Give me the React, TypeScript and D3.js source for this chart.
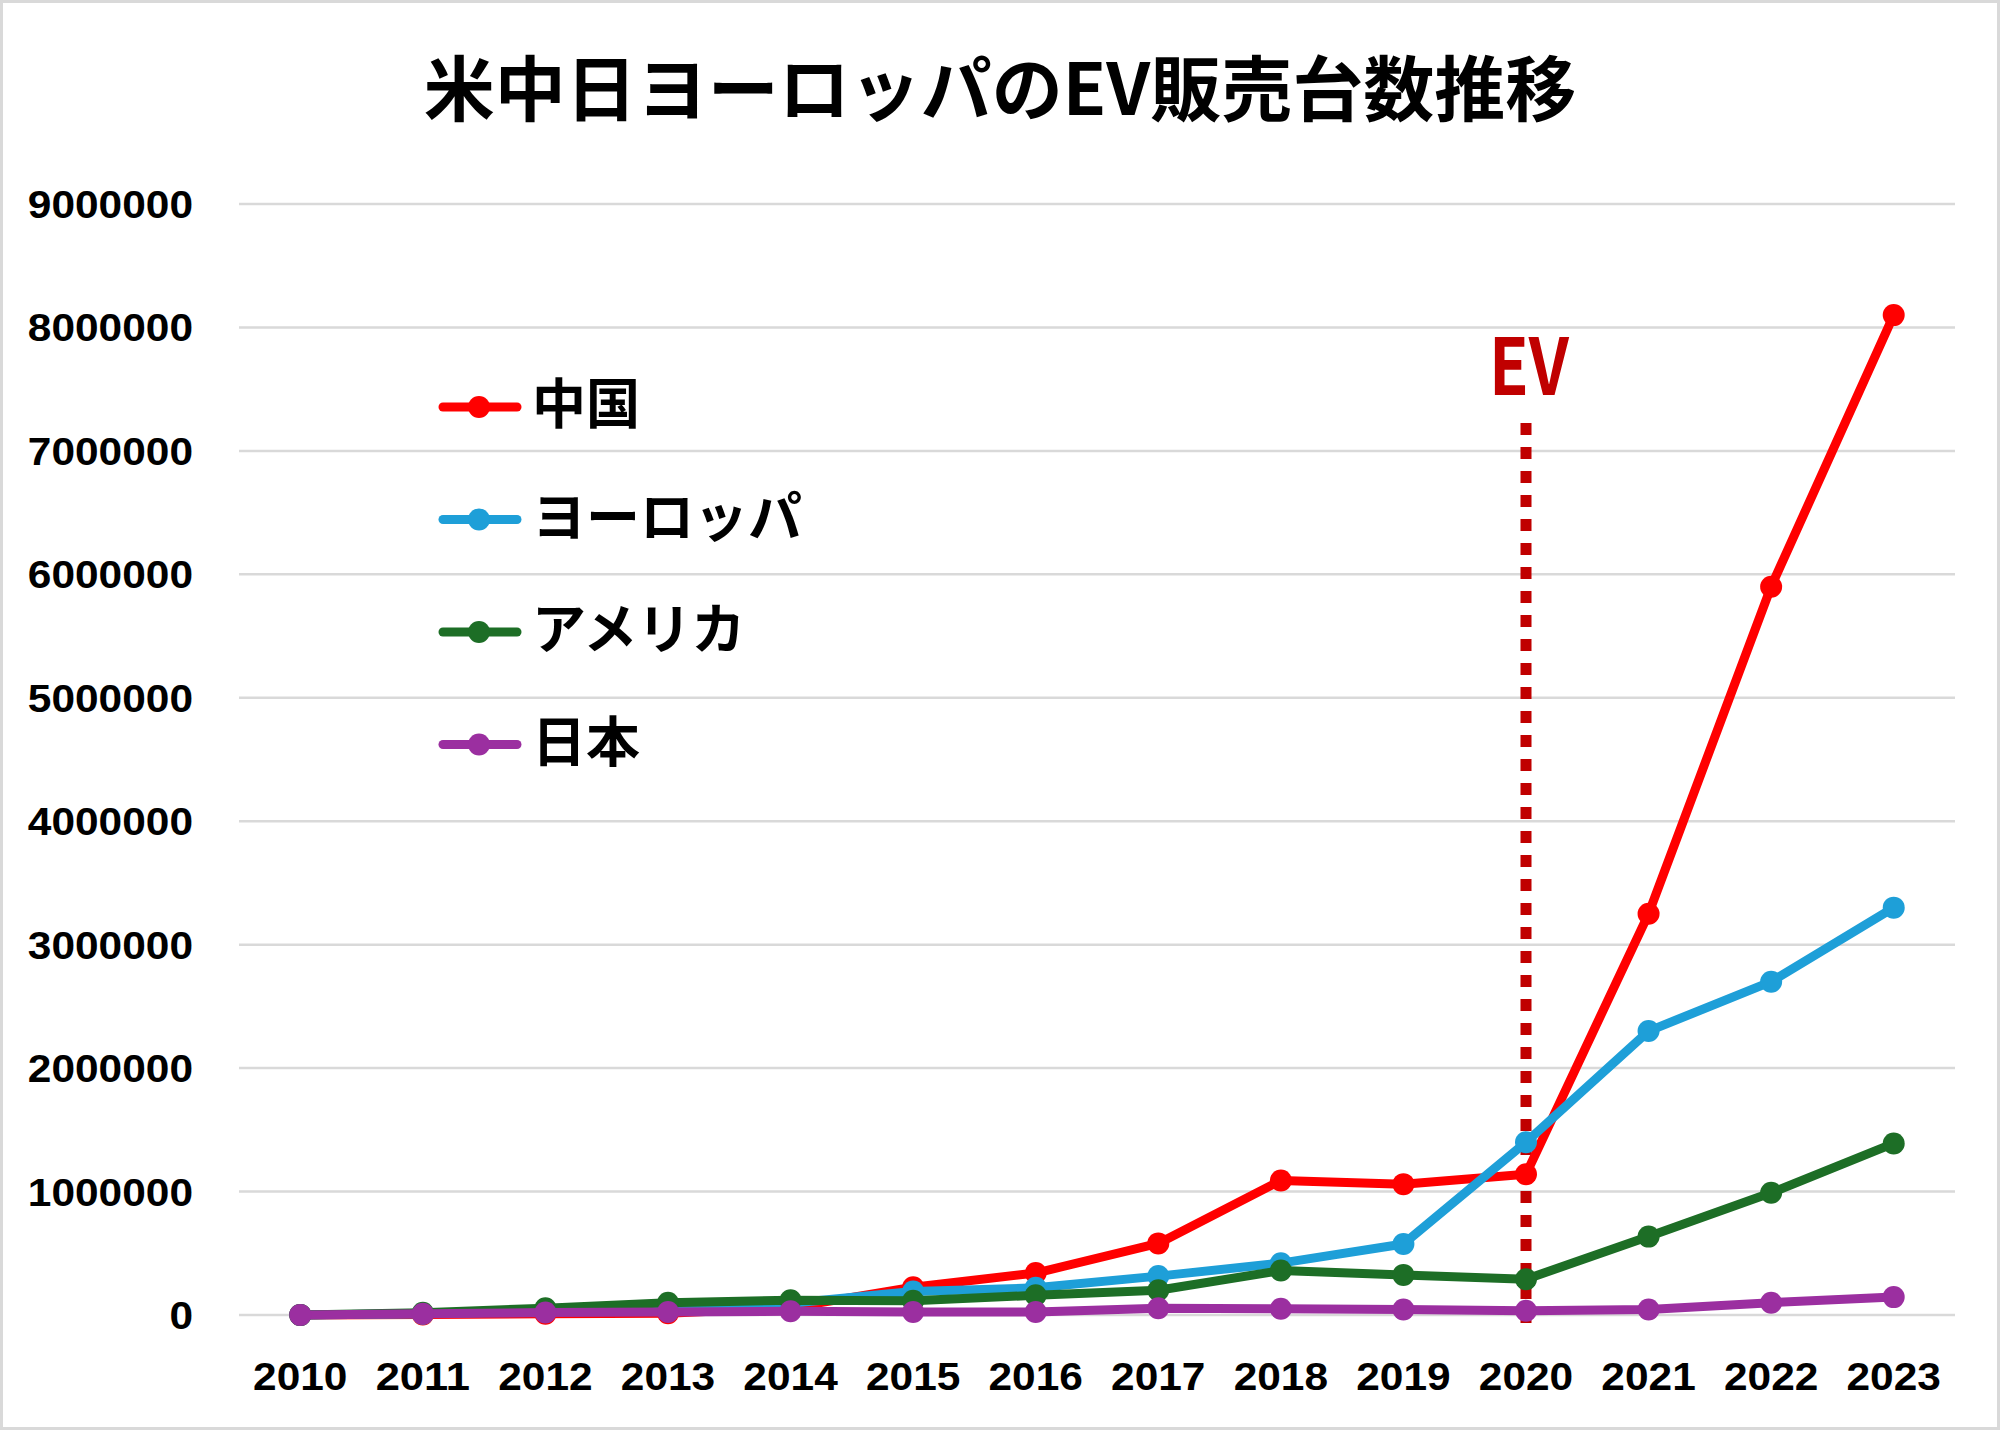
import React from "react";
import * as d3 from "d3";

const years = ["2010","2011","2012","2013","2014","2015","2016","2017","2018","2019","2020","2021","2022","2023"];
const china = [1000, 5000, 10000, 15000, 60000, 225000, 340000, 580000, 1090000, 1060000, 1140000, 3250000, 5900000, 8100000];
const europe = [1000, 10000, 30000, 60000, 95000, 190000, 220000, 315000, 420000, 575000, 1400000, 2300000, 2700000, 3300000];
const america = [1000, 18000, 55000, 100000, 120000, 115000, 160000, 200000, 360000, 325000, 290000, 635000, 990000, 1390000];
const japan = [1000, 10000, 20000, 25000, 30000, 25000, 25000, 55000, 50000, 45000, 35000, 45000, 100000, 145000];
const seriesNames = ["中国", "ヨーロッパ", "アメリカ", "日本"];
const seriesColors = ["#FF0000", "#1E9FD8", "#1D6E26", "#9B2FA0"];
const yTicks = [0, 1000000, 2000000, 3000000, 4000000, 5000000, 6000000, 7000000, 8000000, 9000000];
const titleText = "米中日ヨーロッパのEV販売台数推移";
const markerYear = "2020";
const markerLabel = "EV";

const W = 2000, H = 1430;
const DIGIT_W = 23.6;

export default function App() {
  const x = d3.scaleBand<string>().domain(years).range([239, 1955]);
  const y = d3.scaleLinear().domain([0, 9000000]).range([1315, 204]);
  const cx = (yr: string) => (x(yr) as number) + x.bandwidth() / 2;
  const data = [china, europe, america, japan];
  const line = d3.line<number>().x((_, i) => cx(years[i])).y((v) => y(v));
  const jp = '"Noto Sans CJK JP", "Noto Sans", sans-serif';
  const num = '"Liberation Sans", Arial, sans-serif';
  const mx = cx(markerYear);
  return (
    <svg width={W} height={H} style={{ position: "absolute", left: 0, top: 0, background: "#fff" }}>
      <rect x={1.5} y={1.5} width={W - 3} height={H - 3} fill="#fff" stroke="#D9D9D9" strokeWidth={3} />
      <text x={1000} y={115} textAnchor="middle" fontFamily={jp} fontWeight={700} fontSize={71} fill="#000">{titleText}</text>
      {yTicks.map((t) => {
        const s = String(t);
        return (
          <g key={t}>
            <line x1={239} x2={1955} y1={y(t)} y2={y(t)} stroke="#D9D9D9" strokeWidth={2.5} />
            <text x={193} y={y(t)} dy="0.36em" textAnchor="end" fontFamily={num} fontWeight={700} fontSize={39}
              textLength={s.length * DIGIT_W} lengthAdjust="spacingAndGlyphs" fill="#000">{s}</text>
          </g>
        );
      })}
      {years.map((yr) => (
        <text key={yr} x={cx(yr)} y={1376} dy="0.36em" textAnchor="middle" fontFamily={num} fontWeight={700} fontSize={39}
          textLength={yr.length * DIGIT_W} lengthAdjust="spacingAndGlyphs" fill="#000">{yr}</text>
      ))}
      <line x1={mx} x2={mx} y1={423} y2={1327} stroke="#C00000" strokeWidth={11} strokeDasharray="12 12" />
      <text x={mx + 3} y={395} textAnchor="middle" fontFamily={jp} fontWeight={700} fontSize={78}
        textLength={80} lengthAdjust="spacingAndGlyphs" fill="#C00000">{markerLabel}</text>
      {data.map((s, si) => (
        <g key={si}>
          <path d={line(s) || ""} fill="none" stroke={seriesColors[si]} strokeWidth={9} strokeLinejoin="round" strokeLinecap="round" />
          {s.map((v, i) => (
            <circle key={i} cx={cx(years[i])} cy={y(v)} r={11} fill={seriesColors[si]} />
          ))}
        </g>
      ))}
      {seriesNames.map((n, i) => {
        const ly = 407 + i * 112.5;
        return (
          <g key={n}>
            <line x1={443} x2={517} y1={ly} y2={ly} stroke={seriesColors[i]} strokeWidth={9} strokeLinecap="round" />
            <circle cx={479} cy={ly} r={11} fill={seriesColors[i]} />
            <text x={532} y={ly + 17} fontFamily={jp} fontWeight={700} fontSize={54} fill="#000">{n}</text>
          </g>
        );
      })}
    </svg>
  );
}
